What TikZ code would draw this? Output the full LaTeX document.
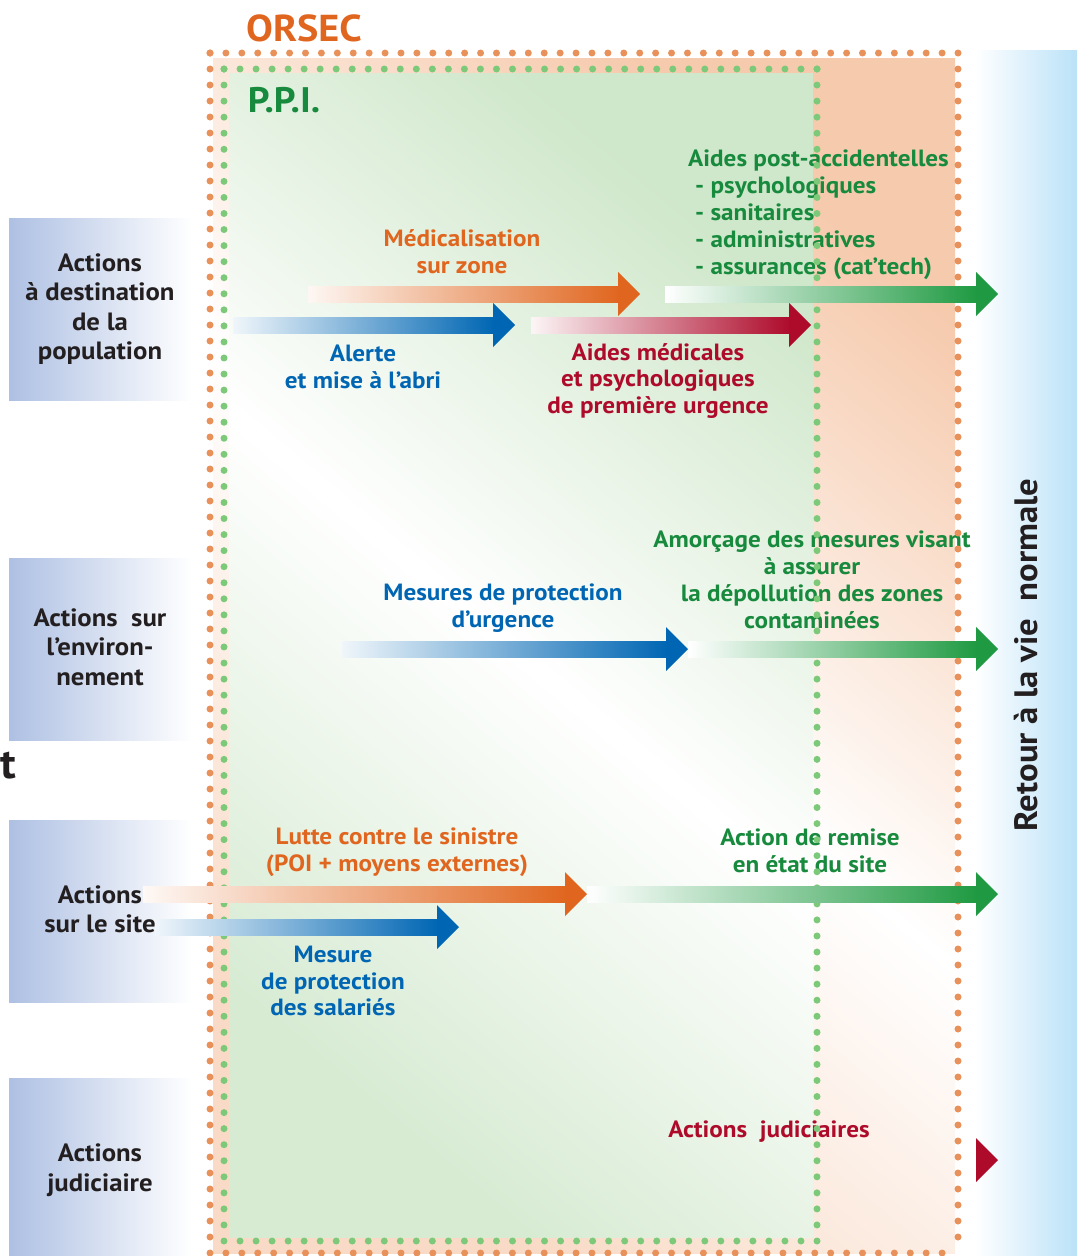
\documentclass[tikz,border=0pt]{standalone}
\usepackage{fontspec}
\setmainfont{PT Sans}[FakeStretch=1.07]
\usepackage{tikz}
\usetikzlibrary{calc,positioning}

\definecolor{orsec}{HTML}{E0661F}
\definecolor{orsecdot}{HTML}{E8915A}
\definecolor{peach}{HTML}{F6CAAD}
\definecolor{ppidot}{HTML}{7DC97A}
\definecolor{ppifill}{HTML}{CFE7CA}
\definecolor{ppigreen}{HTML}{178A3D}
\definecolor{arrgreen}{HTML}{1F9A42}
\definecolor{alblue}{HTML}{0066B3}
\definecolor{aidred}{HTML}{AE0B2B}
\definecolor{ink}{HTML}{231F20}
\definecolor{rowblue}{HTML}{AEC0E3}
\definecolor{skyblue}{HTML}{BBE2F8}

\tikzset{
  lab/.style={font=\bfseries\fontsize{23.5}{26.8}\selectfont, align=center, inner sep=0pt},
  rowlab/.style={font=\bfseries\fontsize{25}{29.4}\selectfont, text=ink, align=center, inner sep=0pt},
  rowbox/.style={left color=rowblue, right color=white},
  dotsor/.style={orsecdot, line width=7pt, line cap=round, dash pattern=on 0pt off #1},
  dotsppi/.style={ppidot, line width=7pt, line cap=round, dash pattern=on 0pt off #1},
}

% shaded band with a solid head: start, tip, pale colour, full colour
\newcommand{\fleche}[4]{%
  \shade[left color=#3, right color=#4] ($(#1)+(0,-8)$) rectangle ($(#2)+(-21,8)$);
  \fill[#4] ($(#2)+(-22,-22)$) -- (#2) -- ($(#2)+(-22,22)$) -- cycle;
}

\begin{document}
\begin{tikzpicture}[x=1pt, y=-1pt]
  \useasboundingbox (0,0) rectangle (1077,1256);

  % Zones
  \shade[top color=peach, bottom color=peach!70, middle color=white, shading angle=-40]
    (213,58) rectangle (955,1253);
  \shade[top color=ppifill, bottom color=ppifill!85, middle color=white, shading angle=-40]
    (229,73) rectangle (813,1237);
  \shade[left color=white, right color=skyblue] (975,50) rectangle (1077,1256);
  \foreach \y in {218,558,820,1078}
    \shade[rowbox] (9,\y) rectangle (192,\y+182);

  % Titles
  \node [font=\bfseries\fontsize{37.5}{40}\selectfont, text=orsec] (orsec) at (304,28) {ORSEC};
  \node [font=\bfseries\fontsize{35.5}{36}\selectfont, text=ppigreen] (ppi) at (284,100) {P.P.I.};
  \node [font=\bfseries\fontsize{32.4}{33}\selectfont, text=ink, rotate=90] (retour) at (1026,655)
    {Retour à la vie~ normale};
  \node [font=\bfseries\fontsize{42}{42}\selectfont, text=ink] (tcut) at (8,766) {t};

  % Rows
  \node [rowlab] (row1) at (100,309) {Actions\\à destination\\de la\\population};
  \node [rowlab] (row2) at (100,647) {Actions~ sur\\l’environ-\\nement};
  \node [rowlab] (row3) at (100,909) {Actions\\sur le site};
  \node [rowlab] (row4) at (100,1170) {Actions\\judiciaire};

  % Labels
  \node [lab, text=orsec] (medic) at (462,252) {Médicalisation\\sur zone};
  \node [lab, text=alblue] (alerte) at (363,367) {Alerte\\et mise à l’abri};
  \node [lab, text=aidred] (aides) at (658,381) {Aides médicales\\et psychologiques\\de première urgence};
  \node [lab, text=ppigreen, align=left, anchor=north west] (post) at (688,150)
    {Aides post-accidentelles\\\hspace{7pt}- psychologiques\\\hspace{7pt}- sanitaires\\
     \hspace{7pt}- administratives\\\hspace{7pt}- assurances (cat’tech)};
  \node [lab, text=alblue] (urg) at (503,608) {Mesures de protection\\d’urgence};
  \node [lab, text=ppigreen] (depol) at (812,580)
    {Amorçage des mesures visant\\à assurer\\la dépollution des zones\\contaminées};
  \node [lab, text=orsec] (lutte) at (397,852) {Lutte contre le sinistre\\(POI + moyens externes)};
  \node [lab, text=ppigreen] (remise) at (810,851) {Action de remise\\en état du site};
  \node [lab, text=alblue] (salar) at (333,981) {Mesure\\de protection\\des salariés};
  \node [lab, text=aidred] (judic) at (769,1132) {Actions~ judiciaires};

  % Dotted frames
  \draw [dotsor=15.915] (210,53) -- (958,53);
  \draw [dotsor=15.915] (210,1253) -- (958,1253);
  \draw [dotsor=16] (210,53) -- (210,1253);
  \draw [dotsor=16] (958,53) -- (958,1253);
  \draw [dotsppi=16.027] (224,69) -- (817,69);
  \draw [dotsppi=16.027] (224,1241) -- (817,1241);
  \draw [dotsppi=16.055] (224,69) -- (224,1241);
  \draw [dotsppi=16.055] (817,69) -- (817,1241);

  % Arrows
  \coordinate (medic-s) at (308,294);  \coordinate (medic-t) at (640,294);
  \coordinate (alerte-s) at (233,325); \coordinate (alerte-t) at (515,325);
  \coordinate (aides-s) at (531,325);  \coordinate (aides-t) at (811,325);
  \coordinate (post-s) at (665,294);   \coordinate (post-t) at (998,294);
  \coordinate (urg-s) at (342,649);    \coordinate (urg-t) at (688,649);
  \coordinate (depol-t) at (998,649);
  \coordinate (lutte-s) at (143,894);  \coordinate (lutte-t) at (587,894);
  \coordinate (remise-t) at (998,894);
  \coordinate (salar-s) at (155,927);  \coordinate (salar-t) at (459,927);
  \coordinate (judic-t) at (998,1160);

  \fleche{medic-s}{medic-t}{orsec!5}{orsec}
  \fleche{alerte-s}{alerte-t}{alblue!6}{alblue}
  \fleche{aides-s}{aides-t}{aidred!4}{aidred}
  \fleche{post-s}{post-t}{white}{arrgreen}
  \fleche{urg-s}{urg-t}{alblue!6}{alblue}
  \fleche{urg-t}{depol-t}{white}{arrgreen}
  \fleche{lutte-s}{lutte-t}{orsec!4}{orsec}
  \fleche{lutte-t}{remise-t}{white}{arrgreen}
  \fleche{salar-s}{salar-t}{alblue!6}{alblue}
  \fill [aidred] ($(judic-t)+(-22,-22)$) -- (judic-t) -- ($(judic-t)+(-22,22)$) -- cycle;
\end{tikzpicture}
\end{document}
